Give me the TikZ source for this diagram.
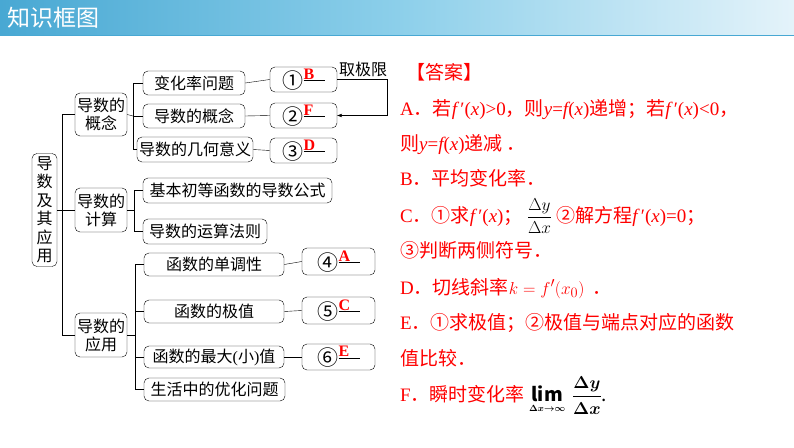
\documentclass[tikz,border=0pt]{standalone}
\usepackage{amsmath}
\usepackage{fontspec}
\setmainfont{Noto Sans CJK SC}
\newfontfamily\lat{Liberation Serif}
\usetikzlibrary{arrows.meta}

\definecolor{barL}{RGB}{72,168,211}
\definecolor{barM}{RGB}{140,207,234}
\definecolor{barR}{RGB}{228,243,250}

\newcommand{\ii}[1]{{\lat\itshape #1}}
\newcommand{\rr}[1]{{\lat #1}}
\newcommand{\fpx}{\ii{f}\,\rr{′(}\ii{x}\rr{)}}
\newcommand{\slot}[2]{{\fontsize{21}{21}\selectfont #1}\rlap{\raisebox{9pt}{\lat\bfseries\fontsize{16}{16}\selectfont\color{red}#2}}\rule[7.5pt]{21pt}{0.7pt}\hspace{8pt}}

\begin{document}
\begin{tikzpicture}[x=1pt, y=-1pt,
    box/.style={draw, rounded corners=5pt, inner sep=0pt, fill=white, font=\fontsize{16}{18}\selectfont},
    ans/.style={box, minimum width=67pt, minimum height=25pt},
    redline/.style={anchor=base west, inner sep=0pt, text=red, font=\fontsize{19}{21}\selectfont}]
    \useasboundingbox (0,0) rectangle (794,447);

    % title bar
    \shade[left color=barL, right color=barR, middle color=barM, shading angle=90] (0,0) rectangle (794,35);
    \draw[barL, line width=1pt] (0,35) -- (794,35);
    \node at (7, 18) [anchor=west, inner sep=0pt, text=white, font=\fontsize{23}{25}\selectfont] (title) {知识框图};

    % tree
    \node at (44.5, 210) [box, minimum width=25pt, minimum height=113pt, align=center, font=\fontsize{16}{18.5}\selectfont] (root) {导\\数\\及\\其\\应\\用};
    \node at (101, 114.5) [box, minimum width=52pt, minimum height=43pt, align=center] (gn) {导数的\\概念};
    \node at (101, 210) [box, minimum width=52pt, minimum height=44pt, align=center] (js) {导数的\\计算};
    \node at (101, 335) [box, minimum width=52pt, minimum height=44pt, align=center] (yy) {导数的\\应用};

    \node at (194, 83) [box, minimum width=102pt, minimum height=24pt] (bh) {变化率问题};
    \node at (194, 116) [box, minimum width=102pt, minimum height=24pt] (gn2) {导数的概念};
    \node at (195, 149.5) [box, minimum width=116pt, minimum height=25pt] (jh) {导数的几何意义};
    \node at (237.5, 190.5) [box, minimum width=189pt, minimum height=25pt] (jb) {基本初等函数的导数公式};
    \node at (205, 231.5) [box, minimum width=124pt, minimum height=25pt] (yf) {导数的运算法则};
    \node at (214, 264.5) [box, minimum width=140pt, minimum height=23pt] (dd) {函数的单调性};
    \node at (214, 311.5) [box, minimum width=140pt, minimum height=23pt] (jz) {函数的极值};
    \node at (214, 357) [box, minimum width=140pt, minimum height=22pt] (zd) {函数的最大{\lat(}小{\lat)}值};
    \node at (214.5, 389.5) [box, minimum width=141pt, minimum height=23pt] (yh) {生活中的优化问题};

    \node at (303.5, 79.5) [ans] (a1) {\slot{①}{B}};
    \node at (303.5, 115.5) [ans] (a2) {\slot{②}{F}};
    \node at (303.5, 150.5) [ans] (a3) {\slot{③}{D}};
    \node at (338.5, 261.5) [ans, minimum width=73pt, minimum height=27pt] (a4) {\slot{④}{A}};
    \node at (338.5, 310.5) [ans, minimum width=73pt, minimum height=27pt] (a5) {\slot{⑤}{C}};
    \node at (338.5, 357) [ans, minimum width=73pt, minimum height=26pt] (a6) {\slot{⑥}{E}};

    \node at (363, 69) [font=\fontsize{16}{18}\selectfont, inner sep=0pt] (qjx) {取极限};

    \coordinate (k0) at (62, 210);
    \coordinate (k1) at (133, 116);
    \coordinate (k2) at (134, 210);
    \coordinate (k3) at (135, 335);
    \coordinate (q) at (387, 79.5);

    \draw (root.east) -- (js.west);
    \draw (gn.west) -- (gn.west -| k0) -- (yy.west -| k0) -- (yy.west);

    \draw (gn.east) -- (k1);
    \draw (bh.west) -- (bh.west -| k1) -- (jh.west -| k1) -- (jh.west);
    \draw (gn2.west) -- (k1);

    \draw (js.east) -- (k2);
    \draw (jb.west) -- (jb.west -| k2) -- (yf.west -| k2) -- (yf.west);

    \draw (yy.east) -- (k3);
    \draw (dd.west) -- (dd.west -| k3) -- (yh.west -| k3) -- (yh.west);
    \draw (jz.west) -- (jz.west -| k3);
    \draw (zd.west) -- (zd.west -| k3);

    \draw (bh.east) -- (a1.west);
    \draw (gn2.east) -- (a2.west);
    \draw (jh.east) -- (a3.west);
    \draw (dd.east) -- (a4.west);
    \draw (jz.east) -- (a5.west);
    \draw (zd.east) -- (a6.west);

    \draw[-{Stealth[length=5pt, width=3.5pt]}] (a1.east) -- (q) |- (a2.east);

    % answers
    \node at (406, 79) [redline] (da) {【答案】};
    \node at (400, 115) [redline] (la) {\rr{A}．若\fpx\rr{>0}，则\ii{y}\rr{=}\ii{f}\rr{(}\ii{x}\rr{)}递增；若\fpx\rr{<0}，};
    \node at (400, 150) [redline] (la2) {则\ii{y}\rr{=}\ii{f}\rr{(}\ii{x}\rr{)}递减\ ．};
    \node at (400, 185) [redline] (lb) {\rr{B}．平均变化率．};
    \node at (400, 222) [redline] (lc) {\rr{C}．①求\fpx；\ {\color{black}$\dfrac{\Delta y}{\Delta x}$}\ ②解方程\fpx\rr{=0}；};
    \node at (400, 257) [redline] (lc2) {③判断两侧符号．};
    \node at (400, 294) [redline] (ld) {\rr{D}．切线斜率$k=f'(x_0)$\ \ ．};
    \node at (400, 329) [redline] (le) {\rr{E}．①求极值；②极值与端点对应的函数};
    \node at (400, 365) [redline] (le2) {值比较．};
    \node at (400, 401) [redline] (lf) {\rr{F}．瞬时变化率\ {\color{black}\boldmath$\displaystyle\lim_{\scriptscriptstyle\Delta x\to\infty}\,\frac{\Delta y}{\Delta x}$.}};
\end{tikzpicture}
\end{document}
